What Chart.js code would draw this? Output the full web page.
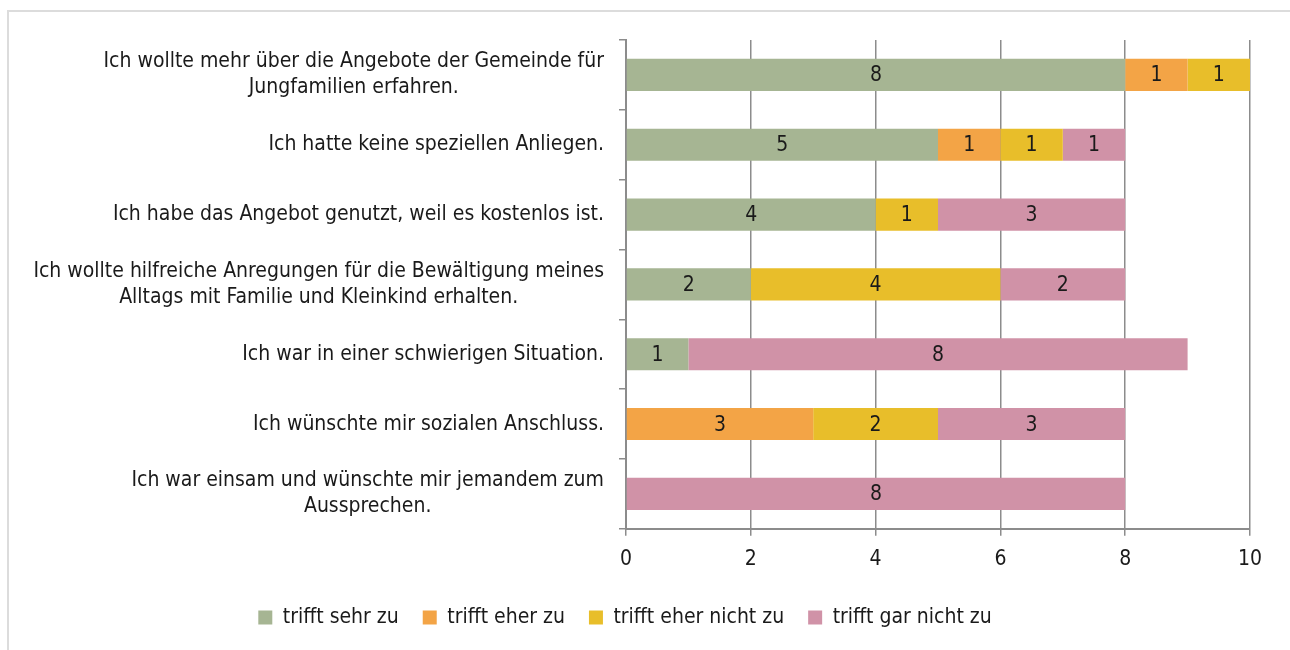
<!DOCTYPE html>
<html>
<head>
<meta charset="utf-8">
<script src="https://cdn.jsdelivr.net/npm/chart.js@4/dist/chart.umd.min.js"></script>
<style>
  html, body { margin: 0; padding: 0; background: #fff; overflow: hidden; }
  #frame { position: absolute; left: 7px; top: 10px; width: 1320px; height: 700px; border: 2px solid #dcdcdc; }
  #wrap { position: absolute; left: 0; top: 0; width: 1290px; height: 650px; }
</style>
</head>
<body>
<div id="frame"></div>
<div id="wrap"><canvas id="chart" width="1290" height="650"></canvas></div>
<script>
const categories = [
    ['Ich wollte mehr über die Angebote der Gemeinde für', 'Jungfamilien erfahren.'],
    'Ich hatte keine speziellen Anliegen.',
    'Ich habe das Angebot genutzt, weil es kostenlos ist.',
    ['Ich wollte hilfreiche Anregungen für die Bewältigung meines', 'Alltags mit Familie und Kleinkind erhalten.'],
    'Ich war in einer schwierigen Situation.',
    'Ich wünschte mir sozialen Anschluss.',
    ['Ich war einsam und wünschte mir jemandem zum', 'Aussprechen.']
];
const seriesNames = ['trifft sehr zu', 'trifft eher zu', 'trifft eher nicht zu', 'trifft gar nicht zu'];
const sehrZu = [8, 5, 4, 2, 1, 0, 0];
const eherZu = [1, 1, 0, 0, 0, 3, 0];
const eherNicht = [1, 1, 1, 4, 0, 2, 0];
const garNicht = [0, 1, 3, 2, 8, 3, 8];
const xTicks = [0, 2, 4, 6, 8, 10];

const FONT = "'Liberation Sans Narrow', 'Arial Narrow', 'DejaVu Sans Condensed', sans-serif";
const colors = ['#A6B593', '#F3A446', '#E8BE2A', '#D092A7'];
const axisGray = '#8c8c8c';

// category labels: block right-aligned, lines centered within the block
const categoryLabels = {
    id: 'categoryLabels',
    afterDraw(chart) {
        const ctx = chart.ctx;
        const yScale = chart.scales.y;
        const right = chart.chartArea.left - 22;
        ctx.save();
        ctx.font = '21px ' + FONT;
        ctx.fillStyle = '#1a1a1a';
        ctx.textAlign = 'center';
        ctx.textBaseline = 'middle';
        categories.forEach((label, i) => {
            const lines = Array.isArray(label) ? label : [label];
            const w = Math.max(...lines.map(l => ctx.measureText(l).width));
            const cx = right - w / 2;
            const cy = yScale.getPixelForValue(i);
            const lh = 26;
            lines.forEach((line, j) => {
                ctx.fillText(line, cx, cy + (j - (lines.length - 1) / 2) * lh);
            });
        });
        ctx.restore();
    }
};

// value labels centered in each bar segment
const valueLabels = {
    id: 'valueLabels',
    afterDatasetsDraw(chart) {
        const ctx = chart.ctx;
        ctx.save();
        ctx.font = '21px ' + FONT;
        ctx.fillStyle = '#1a1a1a';
        ctx.textAlign = 'center';
        ctx.textBaseline = 'middle';
        chart.data.datasets.forEach((ds, di) => {
            const meta = chart.getDatasetMeta(di);
            meta.data.forEach((bar, i) => {
                const v = ds.data[i];
                if (!v) return;
                const p = bar.getCenterPoint();
                ctx.fillText(String(v), p.x, p.y + 1);
            });
        });
        ctx.restore();
    }
};

const ctx = document.getElementById('chart').getContext('2d');
new Chart(ctx, {
    type: 'bar',
    data: {
        labels: categories,
        datasets: [sehrZu, eherZu, eherNicht, garNicht].map((d, i) => ({
            label: seriesNames[i],
            data: d,
            backgroundColor: colors[i],
            borderWidth: 0,
            barPercentage: 0.46,
            categoryPercentage: 1
        }))
    },
    options: {
        indexAxis: 'y',
        responsive: false,
        animation: false,
        layout: { padding: { left: 0, right: 40, top: 40, bottom: 12 } },
        scales: {
            x: {
                stacked: true,
                min: 0,
                max: 10,
                afterBuildTicks(scale) { scale.ticks = xTicks.map(v => ({ value: v })); },
                grid: { color: axisGray, lineWidth: 1.5, tickLength: 7, drawTicks: true },
                border: { color: axisGray, width: 2 },
                ticks: { color: '#1a1a1a', font: { family: FONT, size: 21 }, padding: 11 }
            },
            y: {
                stacked: true,
                offset: true,
                afterFit(scale) { scale.width = 626; },
                grid: { drawOnChartArea: false, offset: true, color: axisGray, lineWidth: 1.5, tickLength: 7 },
                border: { color: axisGray, width: 2 },
                ticks: { display: false }
            }
        },
        plugins: {
            legend: {
                position: 'bottom',
                labels: {
                    boxWidth: 14,
                    boxHeight: 14,
                    padding: 24,
                    color: '#1a1a1a',
                    font: { family: FONT, size: 21 }
                }
            },
            tooltip: { enabled: false }
        }
    },
    plugins: [categoryLabels, valueLabels]
});
</script>
</body>
</html>
